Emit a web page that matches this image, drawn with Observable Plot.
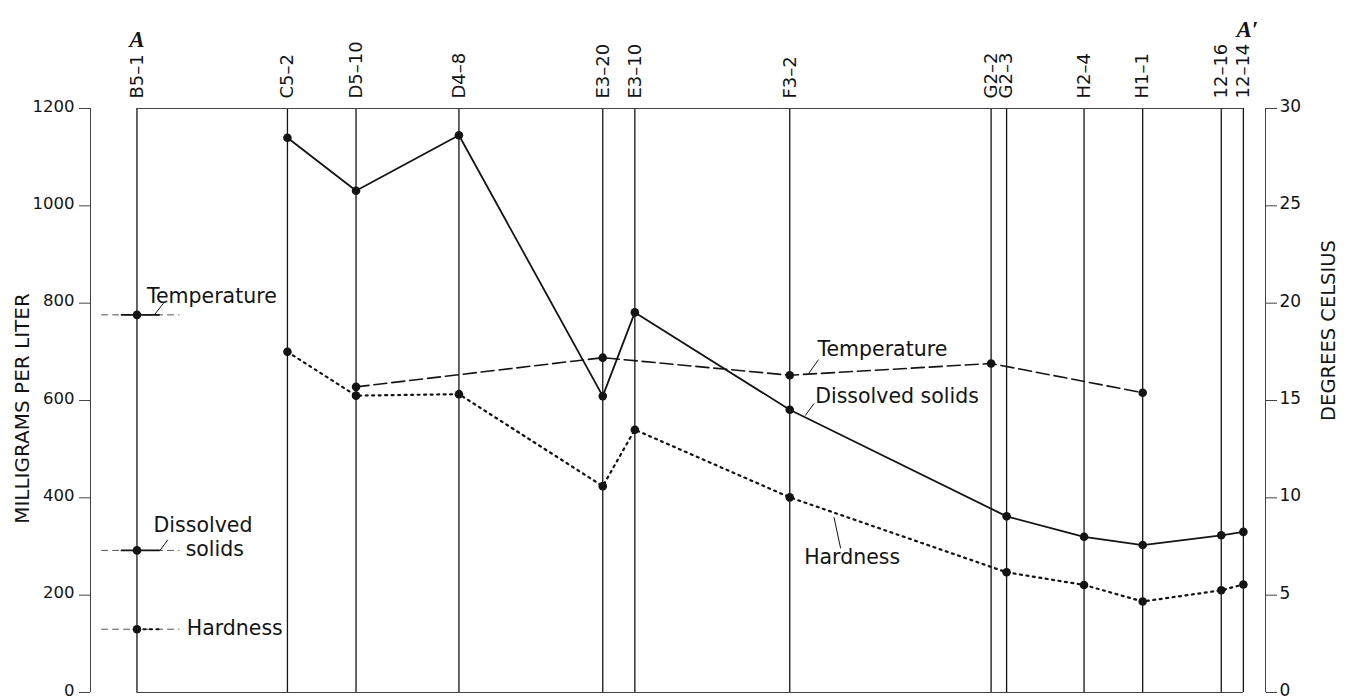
<!DOCTYPE html>
<html><head><meta charset="utf-8">
<script src="https://cdn.jsdelivr.net/npm/d3@7"></script>
<script src="https://cdn.jsdelivr.net/npm/@observablehq/plot@0.6"></script>
<style>
html,body{margin:0;padding:0;background:#fff;}
#chart svg{display:block}
</style>
</head><body><div id="chart"></div>
<script>
// Wells along section A–A' (distance in relative units, B5-1 = 0, 12-14 = 100)
const wells = ["B5–1","C5–2","D5–10","D4–8","E3–20","E3–10","F3–2","G2–2","G2–3","H2–4","H1–1","12–16","12–14"];
const distance = [0, 13.6, 19.8, 29.1, 42.1, 45.0, 59.0, 77.2, 78.6, 85.6, 90.9, 98.0, 100];
// milligrams per liter (null = not sampled); B5-1 values double as the key
const dissolvedSolids = [292, 1140, 1031, 1145, 609, 781, 581, null, 362, 320, 303, 323, 330];
const hardness = [130, 700, 610, 613, 424, 540, 401, null, 247, 221, 187, 210, 222];
// degrees Celsius
const temperature = [19.4, null, 15.7, null, 17.2, null, 16.3, 16.9, null, null, 15.4, null, null];
const mgTicks = [0, 200, 400, 600, 800, 1000, 1200];
const celsiusTicks = [0, 5, 10, 15, 20, 25, 30];
const sectionEnds = ["A", "A′"];

// annotation labels (x in distance units, y in mg/L)
const labelText = ["Temperature", "Dissolved", "solids", "Hardness", "Temperature", "Dissolved solids", "Hardness"];
const labelX = [0.9, 1.5, 4.4, 4.5, 61.5, 61.3, 60.3];
const labelY = [814, 343, 294, 131, 705, 608, 277];
// leader lines
const leaderX1 = [1.54, 2.08, 60.7, 60.4, 63.0];
const leaderY1 = [775, 292, 655, 569, 360];
const leaderX2 = [2.40, 2.80, 61.6, 61.2, 63.6];
const leaderY2 = [800, 314, 684, 594, 296];
// key stubs around B5-1
const stubOuter = [-3.2, 3.8];
const stubInner = [-1.4, 2.0];

const C = 40;            // 30 °C shares the 1200 mg/L line
const xDomain = [-4.2, 102];
const ink = "#141414";
const font = "DejaVu Sans";

const rows = wells.map((w, i) => ({
  well: w, x: distance[i],
  ds: dissolvedSolids[i], hd: hardness[i],
  t: temperature[i] == null ? null : temperature[i] * C
}));
const profile = rows.slice(1);
const key = rows[0];
const labels = labelText.map((t, i) => ({text: t, x: labelX[i], y: labelY[i]}));
const leaders = leaderX1.map((x, i) => ({x1: x, y1: leaderY1[i], x2: leaderX2[i], y2: leaderY2[i]}));

const dashT = "13,5", dotH = "2,4.5";
const seg = (xs, y) => xs.map(x => ({x, y}));

const plot = Plot.plot({
  width: 1347, height: 700,
  marginTop: 108, marginBottom: 8, marginLeft: 90, marginRight: 82,
  x: {domain: xDomain, axis: null},
  y: {domain: [0, 1200]},
  style: {fontFamily: font, fontSize: "16px", color: ink, background: "#fff"},
  marks: [
    Plot.ruleX(rows, {x: "x", y1: 0, y2: 1200, stroke: ink, strokeWidth: 1.3}),
    Plot.ruleY([0, 1200], {x1: distance[0], x2: distance[distance.length - 1], stroke: "#444", strokeWidth: 1}),
    Plot.ruleX([xDomain[0], xDomain[1]], {y1: 0, y2: 1200, stroke: "#444", strokeWidth: 1}),
    // tick marks (labels drawn separately)
    Plot.axisY({anchor: "left", ticks: mgTicks, tickSize: 11, label: null, stroke: "#444", fill: "none"}),
    Plot.axisY({anchor: "right", ticks: celsiusTicks.map(t => t * C), tickSize: 11, label: null, stroke: "#444", fill: "none"}),
    Plot.text(mgTicks, {y: d => d, text: d => String(d), frameAnchor: "left", textAnchor: "end", dx: -16, dy: -2, fontSize: 16.5, fill: ink}),
    Plot.text(celsiusTicks, {y: d => d * C, text: d => String(d), frameAnchor: "right", textAnchor: "start", dx: 14, dy: -2, fontSize: 17, fill: ink}),
    Plot.text(["MILLIGRAMS PER LITER"], {frameAnchor: "left", textAnchor: "middle", rotate: -90, dx: -68, dy: 8, fontSize: 20, fill: ink}),
    Plot.text(["DEGREES CELSIUS"], {frameAnchor: "right", textAnchor: "middle", rotate: -90, dx: 63, dy: -70, fontSize: 19.5, fill: ink}),
    Plot.text(rows, {x: "x", frameAnchor: "top", text: "well", rotate: -90, textAnchor: "start", lineAnchor: "middle", dy: -10, fontSize: 18, fill: ink}),
    Plot.text([{x: distance[0], t: sectionEnds[0]}], {x: "x", text: "t", frameAnchor: "top", dy: -78, fontSize: 23, fontWeight: "bold", fontStyle: "italic", fontFamily: "Liberation Serif", fill: ink}),
    Plot.text([{x: distance[distance.length - 1], t: sectionEnds[1]}], {x: "x", text: "t", frameAnchor: "top", dx: 4, dy: -88, fontSize: 23, fontWeight: "bold", fontStyle: "italic", fontFamily: "Liberation Serif", fill: ink}),
    // key stubs at B5-1
    Plot.line(seg(stubOuter, key.t), {x: "x", y: "y", stroke: "#555", strokeWidth: 1, strokeDasharray: "6,5"}),
    Plot.line(seg(stubOuter, key.ds), {x: "x", y: "y", stroke: "#555", strokeWidth: 1, strokeDasharray: "6,5"}),
    Plot.line(seg(stubOuter, key.hd), {x: "x", y: "y", stroke: "#555", strokeWidth: 1, strokeDasharray: "6,5"}),
    Plot.line(seg(stubInner, key.t), {x: "x", y: "y", stroke: ink, strokeWidth: 1.8}),
    Plot.line(seg(stubInner, key.ds), {x: "x", y: "y", stroke: ink, strokeWidth: 1.8}),
    Plot.line(seg([0, stubInner[1]], key.hd), {x: "x", y: "y", stroke: ink, strokeWidth: 2.2, strokeDasharray: dotH}),
    // series
    Plot.line(profile.filter(d => d.ds != null), {x: "x", y: "ds", stroke: ink, strokeWidth: 1.8}),
    Plot.line(profile.filter(d => d.hd != null), {x: "x", y: "hd", stroke: ink, strokeWidth: 2.2, strokeDasharray: dotH}),
    Plot.line(profile.filter(d => d.t != null), {x: "x", y: "t", stroke: ink, strokeWidth: 1.6, strokeDasharray: dashT}),
    Plot.dot(rows.filter(d => d.ds != null), {x: "x", y: "ds", r: 4.3, fill: ink}),
    Plot.dot(rows.filter(d => d.hd != null), {x: "x", y: "hd", r: 4.3, fill: ink}),
    Plot.dot(rows.filter(d => d.t != null), {x: "x", y: "t", r: 4.3, fill: ink}),
    // annotations
    Plot.link(leaders, {x1: "x1", y1: "y1", x2: "x2", y2: "y2", stroke: ink, strokeWidth: 1}),
    Plot.text(labels, {x: "x", y: "y", text: "text", textAnchor: "start", fontSize: 20.5, fill: ink})
  ]
});
document.getElementById("chart").append(plot);
</script>
</body></html>
